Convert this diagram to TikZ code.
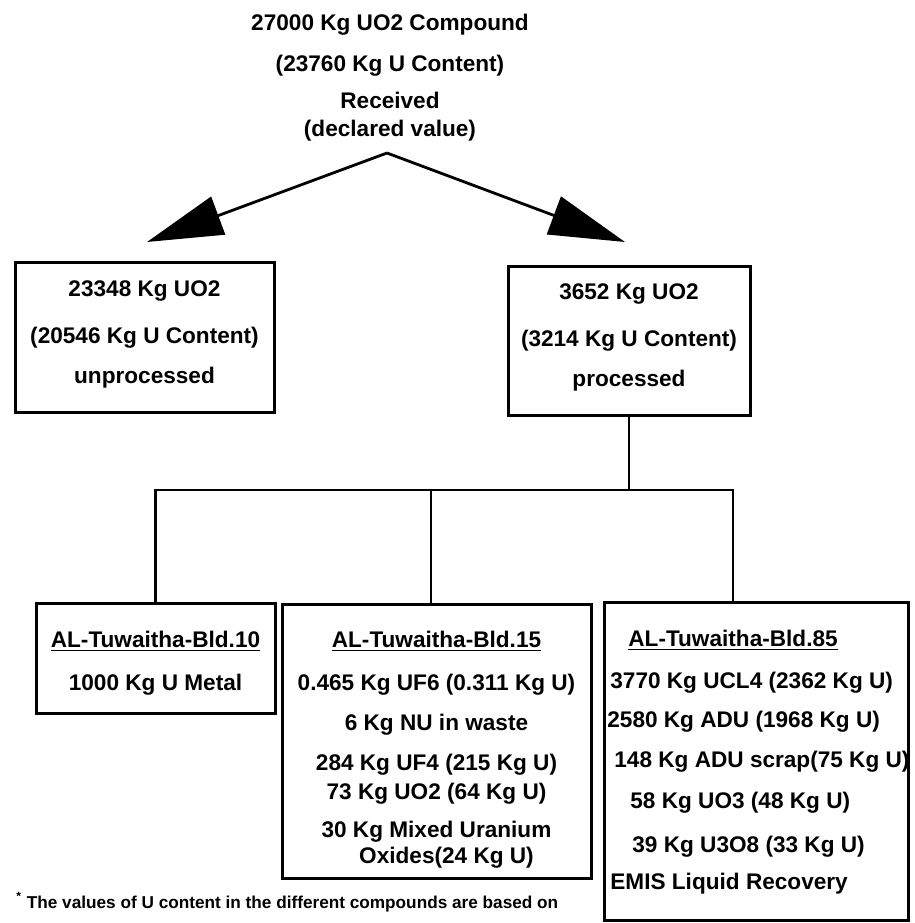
\documentclass[tikz,border=0pt]{standalone}
\usepackage{fontspec}
\setmainfont{Liberation Sans}
\usepackage{tikz}
\usetikzlibrary{arrows.meta}
\usetikzlibrary{positioning}
\tikzset{auto, node distance=1cm, font=\fontsize{11.3}{13}\selectfont\bfseries}
\tikzstyle{block} = [draw, rectangle, line width=1.5pt, inner sep=0pt]
\tikzstyle{txt} = [align=center, inner sep=0pt]
\tikzstyle{bldline} = [anchor=west, inner sep=0pt]
\tikzstyle{flow} = [-{Triangle[length=38pt,width=20pt]}, line width=1.4pt]
\tikzstyle{link} = [line width=1.4pt]

\begin{document}
\begin{tikzpicture}[x=0.5pt, y=-0.5pt]
    \useasboundingbox (0,0) rectangle (915,923);

    % received material
    \node [txt, anchor=north] (recv) at (390,14) {27000 Kg UO2 Compound\\[7.5pt] (23760 Kg U Content)\\[5.5pt] Received\\[1pt] (declared value)};
    \coordinate (split) at (387,153);
    \coordinate (ltip) at (147,242);
    \coordinate (rtip) at (625,242);

    % split
    \node [block, minimum width=129.5pt, minimum height=75pt] (unproc) at (144.5,337) {};
    \node [txt, below=10pt of unproc.north] (unproct) {23348 Kg UO2\\[10.5pt] (20546 Kg U Content)\\[7pt] unprocessed};
    \node [block, minimum width=121pt, minimum height=74.5pt] (proc) at (629,340.5) {};
    \node [txt, below=9.5pt of proc.north] (proct) {3652 Kg UO2\\[10.5pt] (3214 Kg U Content)\\[7pt] processed};

    % buildings
    \node [block, minimum width=119.5pt, minimum height=55pt] (bld10) at (155.5,658) {};
    \node [txt, below=14.5pt of bld10.north] (bld10t) {\underline{AL-Tuwaitha-Bld.10}\\[8.5pt] 1000 Kg U Metal};
    \node [block, minimum width=154.5pt, minimum height=137pt] (bld15) at (436.5,741) {};
    \node [txt, below=14pt of bld15.north] (bld15t) {\underline{AL-Tuwaitha-Bld.15}\\[8.5pt] 0.465 Kg UF6 (0.311 Kg U)\\[7pt] 6 Kg NU in waste\\[7pt] 284 Kg UF4 (215 Kg U)\\[1.5pt] 73 Kg UO2 (64 Kg U)\\[6pt] 30 Kg Mixed Uranium\\ \hspace*{10pt}Oxides(24 Kg U)};
    \node [block, minimum width=152pt, minimum height=159pt] (bld85) at (756,761) {};
    \node [bldline] (bld85a) at (628,640) {\underline{AL-Tuwaitha-Bld.85}};
    \node [bldline] (bld85b) at (610,683) {3770 Kg UCL4 (2362 Kg U)};
    \node [bldline] (bld85c) at (607,722) {2580 Kg ADU (1968 Kg U)};
    \node [bldline] (bld85d) at (614,762) {148 Kg ADU scrap(75 Kg U)};
    \node [bldline] (bld85e) at (630,803) {58 Kg UO3 (48 Kg U)};
    \node [bldline] (bld85f) at (632,847) {39 Kg U3O8 (33 Kg U)};
    \node [bldline] (bld85g) at (610,884) {EMIS Liquid Recovery};

    \node [anchor=west, inner sep=0pt, font=\fontsize{8.6}{10}\selectfont\bfseries] (note) at (16,902) {\textsuperscript{*} The values of U content in the different compounds are based on};

    \coordinate (hub) at (629,490);
    \coordinate (drop15) at ([xshift=-2.75pt]bld15.north);
    \coordinate (drop85) at ([xshift=-11.5pt]bld85.north);

    \draw [flow] (split) -- (ltip);
    \draw [flow] (split) -- (rtip);
    \draw [link] (proc.south) -- (hub);
    \draw [link] (bld10.north) |- (drop85 |- hub) -- (drop85);
    \draw [link] (drop15) -- (drop15 |- hub);
\end{tikzpicture}
\end{document}
